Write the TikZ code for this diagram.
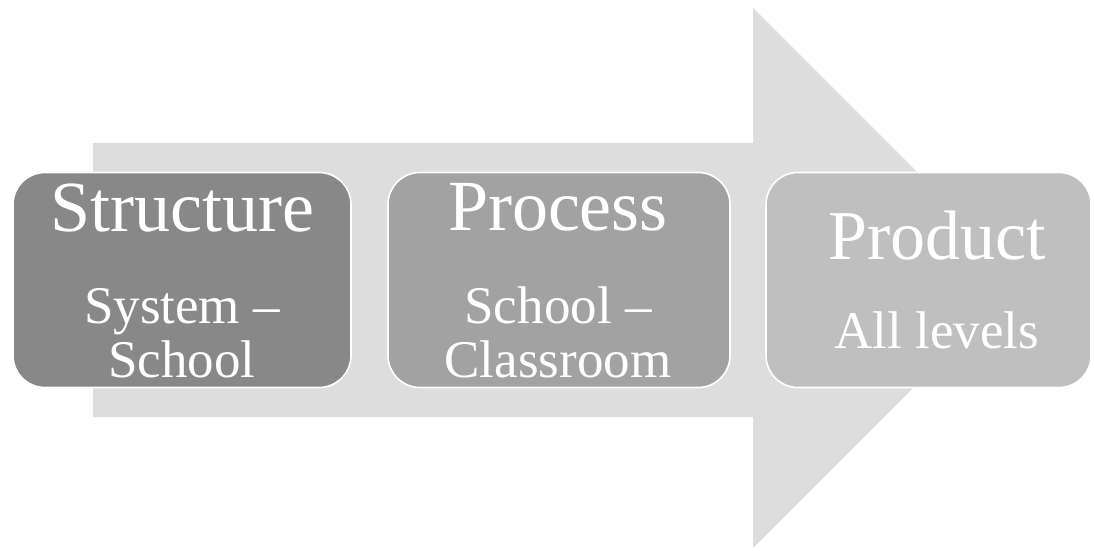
\documentclass[tikz,border=0pt]{standalone}
\usepackage{fontspec}
\setmainfont{Liberation Serif}
\definecolor{arrowgray}{gray}{0.866}
\definecolor{boxA}{gray}{0.533}
\definecolor{boxB}{gray}{0.635}
\definecolor{boxC}{gray}{0.749}
\begin{document}
\begin{tikzpicture}[x=1pt,y=-1pt,
  stagebox/.style={draw=white, line width=1.6pt, rounded corners=32pt, minimum height=215pt, inner sep=0pt},
  title/.style={anchor=base, inner sep=0pt, text=white, font=\fontsize{72}{72}\selectfont},
  sub/.style={anchor=base, inner sep=0pt, text=white, font=\fontsize{53}{53}\selectfont}]
\useasboundingbox (0,0) rectangle (1094,551);
% big arrow
\fill[arrowgray] (93,143) -- (753,143) -- (753,8) -- (1023,278) -- (753,548) -- (753,417) -- (93,417) -- cycle;
% boxes
\node[stagebox, fill=boxA, minimum width=338pt] (s) at (182,280) {};
\node[stagebox, fill=boxB, minimum width=342pt] (p) at (559,280) {};
\node[stagebox, fill=boxC, minimum width=325pt] (r) at (928.5,280) {};
% texts
\node[title] (st) at (182,231) {Structure};
\node[sub] (s1) at (182,323) {System –};
\node[sub] (s2) at (182,377) {School};
\node[title] (pt) at (558,230) {Process};
\node[sub] (p1) at (558,323) {School –};
\node[sub] (p2) at (558,377) {Classroom};
\node[title, font=\fontsize{70}{70}\selectfont] (rt) at (937,259) {Product};
\node[sub] (r1) at (937,348) {All levels};
\end{tikzpicture}
\end{document}
